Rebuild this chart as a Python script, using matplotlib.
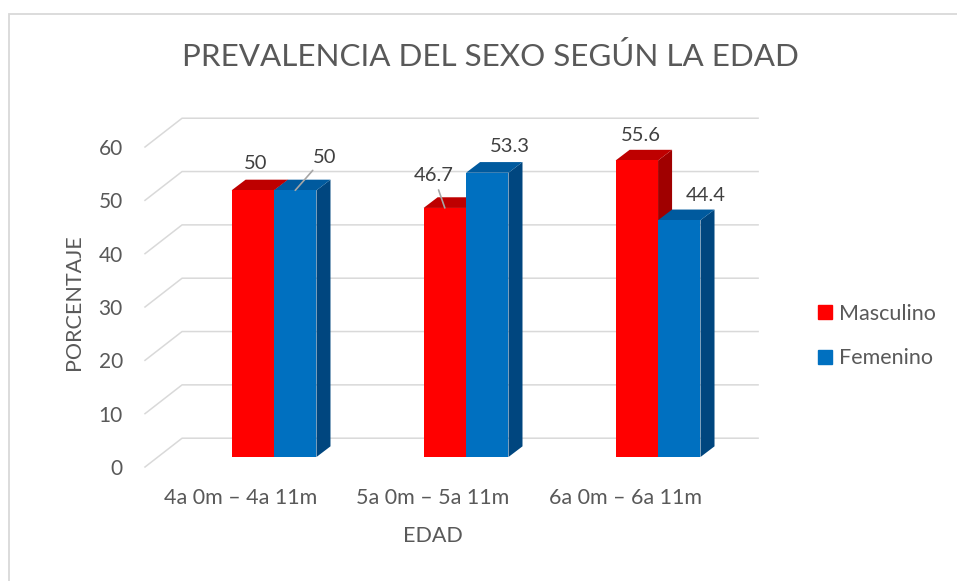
import matplotlib.pyplot as plt
from matplotlib.patches import Polygon, Rectangle, Patch

# datos
categorias = ['4a 0m – 4a 11m', '5a 0m – 5a 11m', '6a 0m – 6a 11m']
masculino = [50, 46.7, 55.6]
femenino = [50, 53.3, 44.4]
yticks = [0, 10, 20, 30, 40, 50, 60]

plt.rcParams['font.family'] = ['Lato', 'DejaVu Sans']
gris = '#595959'

# efecto 3D (unidades de datos)
FLOOR_DX, FLOOR_DY = 0.193, 5.4
BAR_X0, BAR_Y0 = 0.172, 1.875
BAR_W = 0.221
DEPTH_X, DEPTH_Y = 0.073, 2.0

fig = plt.figure(figsize=(9.57, 5.81), dpi=100)
ax = fig.add_axes([145/957, 114/581, 625/957, 357/581])
ax.set_xlim(-0.5, 2.755)
ax.set_ylim(0, 66.94)

#lineas de la pared izquierda y del fondo
for v in yticks:
    ax.plot([-0.5, -0.5+FLOOR_DX, 2.5+FLOOR_DX], [v, v+FLOOR_DY, v+FLOOR_DY],
            color='#D9D9D9', lw=1.1, clip_on=False, zorder=1)

z = 2
def barra3d(x0, h, front, top, side):
    global z
    y0 = BAR_Y0
    ax.add_patch(Polygon([(x0+BAR_W, y0), (x0+BAR_W+DEPTH_X, y0+DEPTH_Y),
                          (x0+BAR_W+DEPTH_X, y0+h+DEPTH_Y), (x0+BAR_W, y0+h)],
                         closed=True, facecolor=side, edgecolor='none', zorder=z, clip_on=False))
    ax.add_patch(Polygon([(x0, y0+h), (x0+BAR_W, y0+h), (x0+BAR_W+DEPTH_X, y0+h+DEPTH_Y),
                          (x0+DEPTH_X, y0+h+DEPTH_Y)],
                         closed=True, facecolor=top, edgecolor='none', zorder=z, clip_on=False))
    ax.bar(x0, h, width=BAR_W, bottom=y0, align='edge', color=front, zorder=z+1)
    z += 2

for i in range(len(categorias)):
    barra3d(i+BAR_X0-BAR_W, masculino[i], '#FF0000', '#BE0000', '#A00000')
    barra3d(i+BAR_X0, femenino[i], '#0070C0', '#005A9E', '#00467F')

# etiquetas de datos
off_m = [(2, 19), (-8, 23), (3, 18)]
off_f = [(21, 24), (16, 19), (19, 18)]
linea_m = [False, True, False]
linea_f = [True, False, False]
for i in range(len(categorias)):
    for val, x, off, linea in [(masculino[i], i+BAR_X0-BAR_W/2, off_m[i], linea_m[i]),
                               (femenino[i], i+BAR_X0+BAR_W/2, off_f[i], linea_f[i])]:
        ap = dict(arrowstyle='-', color='#A6A6A6', lw=1.2, shrinkA=2, shrinkB=0) if linea else None
        ax.annotate(f'{val:g}', xy=(x, BAR_Y0+val), xytext=off, textcoords='offset points',
                    ha='center', va='center', fontsize=14.5, color='#404040',
                    arrowprops=ap, zorder=20)

ax.set_xticks(range(len(categorias)))
ax.set_xticklabels(categorias)
ax.set_yticks(yticks)
ax.tick_params(axis='x', length=0, pad=15, labelsize=15.5, labelcolor=gris)
ax.tick_params(axis='y', length=0, pad=16, labelsize=15, labelcolor=gris)
for s in ax.spines.values():
    s.set_visible(False)

ax.set_xlabel('EDAD', fontsize=15.5, color=gris, va='center')
ax.xaxis.set_label_coords(0.461, -0.193)
ax.set_ylabel('PORCENTAJE', fontsize=15.5, color=gris, va='center')
ax.yaxis.set_label_coords(-0.114, 0.461)

fig.text(490/957, 1-57/581, 'PREVALENCIA DEL SEXO SEGÚN LA EDAD', fontsize=22.6,
         color=gris, ha='center', va='center')

handles = [Patch(color='#FF0000', label='Masculino'), Patch(color='#0070C0', label='Femenino')]
fig.legend(handles=handles, loc='center left', bbox_to_anchor=(818/957, 1-336/581),
           frameon=False, fontsize=15.5, handlelength=0.65, handleheight=0.65,
           handletextpad=0.33, labelspacing=1.16, labelcolor=gris,
           borderpad=0, borderaxespad=0)

# borde del grafico
fig.add_artist(Rectangle((9/957, -0.5), 2, 1.5-14/581, transform=fig.transFigure,
                         fill=False, edgecolor='#D9D9D9', lw=1.3))

plt.savefig('out.png', dpi=100)
